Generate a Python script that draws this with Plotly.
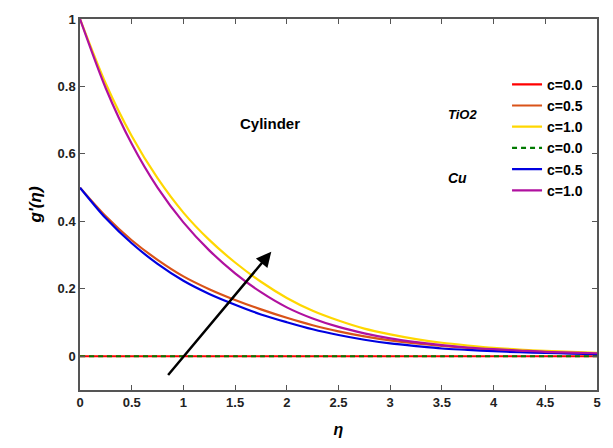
import plotly.graph_objects as go

eta = [0, 0.25, 0.5, 0.75, 1, 1.25, 1.5, 1.75, 2, 2.25, 2.5, 2.75, 3, 3.25, 3.5, 3.75, 4, 4.25, 4.5, 4.75, 5]

tio2_c00 = [0.0] * 21
tio2_c05 = [0.5, 0.415, 0.344, 0.286, 0.237, 0.199, 0.167, 0.139, 0.114, 0.092, 0.074, 0.059, 0.047, 0.038, 0.031, 0.025, 0.020, 0.017, 0.014, 0.011, 0.009]
tio2_c10 = [1.0, 0.808, 0.653, 0.528, 0.426, 0.345, 0.278, 0.221, 0.173, 0.135, 0.106, 0.082, 0.065, 0.051, 0.040, 0.032, 0.025, 0.020, 0.016, 0.013, 0.010]
cu_c00 = [0.0] * 21
cu_c05 = [0.5, 0.409, 0.335, 0.274, 0.224, 0.185, 0.153, 0.124, 0.101, 0.080, 0.063, 0.049, 0.038, 0.030, 0.023, 0.019, 0.015, 0.012, 0.010, 0.008, 0.006]
cu_c10 = [1.0, 0.794, 0.630, 0.500, 0.397, 0.314, 0.246, 0.190, 0.145, 0.112, 0.087, 0.068, 0.053, 0.042, 0.033, 0.026, 0.021, 0.017, 0.013, 0.011, 0.009]

x_ticks = [0, 0.5, 1, 1.5, 2, 2.5, 3, 3.5, 4, 4.5, 5]
x_tick_labels = ["0", "0.5", "1", "1.5", "2", "2.5", "3", "3.5", "4", "4.5", "5"]
y_ticks = [0, 0.2, 0.4, 0.6, 0.8, 1]
y_tick_labels = ["0", "0.2", "0.4", "0.6", "0.8", "1"]

series = [
    ("c=0.0", tio2_c00, "#ff0000", "solid"),
    ("c=0.5", tio2_c05, "#d95319", "solid"),
    ("c=1.0", tio2_c10, "#ffd700", "solid"),
    ("c=0.0", cu_c00, "#007a00", "5px,4px"),
    ("c=0.5", cu_c05, "#0000e0", "solid"),
    ("c=1.0", cu_c10, "#b0109f", "solid"),
]

fig = go.Figure()
for name, ys, col, dash in series:
    fig.add_trace(go.Scatter(
        x=eta, y=ys, mode="lines", name="<b>%s</b>" % name,
        line=dict(color=col, width=2.2, dash=dash, shape="spline", smoothing=0.8),
    ))

font_family = "Liberation Sans, Arial, sans-serif"

fig.add_annotation(x=1.85, y=0.31, ax=0.84, ay=-0.06, xref="x", yref="y",
                   axref="x", ayref="y", showarrow=True, arrowhead=2,
                   arrowsize=1.2, arrowwidth=2.5, arrowcolor="black", text="")
fig.add_annotation(x=1.84, y=0.69, xref="x", yref="y", showarrow=False,
                   text="<b>Cylinder</b>", font=dict(family=font_family, size=15, color="black"))
fig.add_annotation(x=3.70, y=0.717, xref="x", yref="y", showarrow=False,
                   text="<b><i>TiO2</i></b>", font=dict(family=font_family, size=13, color="black"))
fig.add_annotation(x=3.65, y=0.53, xref="x", yref="y", showarrow=False,
                   text="<b><i>Cu</i></b>", font=dict(family=font_family, size=14, color="black"))

axis_common = dict(showline=True, linecolor="#555555", linewidth=1.5, mirror="ticks",
                   ticks="inside", ticklen=5, tickcolor="#555555", tickwidth=1,
                   showgrid=False, zeroline=False,
                   tickfont=dict(family=font_family, size=13, color="#222222"))

fig.update_xaxes(range=[0, 5], tickvals=x_ticks, ticktext=["<b>%s</b>" % t for t in x_tick_labels],
                 title=dict(text="<b><i>η</i></b>", font=dict(family=font_family, size=16, color="black"), standoff=14),
                 **axis_common)
fig.update_yaxes(range=[-0.1, 1], tickvals=y_ticks, ticktext=["<b>%s</b>" % t for t in y_tick_labels],
                 title=dict(text="<b><i>g'(η)</i></b>", font=dict(family=font_family, size=17, color="black"), standoff=12),
                 **axis_common)

fig.update_layout(
    width=613, height=448,
    margin=dict(l=80, r=13, t=16, b=53),
    paper_bgcolor="white", plot_bgcolor="white",
    showlegend=True,
    legend=dict(x=0.826, y=0.866, xanchor="left", yanchor="top",
                bgcolor="rgba(0,0,0,0)", borderwidth=0, tracegroupgap=0,
                font=dict(family=font_family, size=14, color="black"),
                itemwidth=30),
)

fig.write_html("out.html")
